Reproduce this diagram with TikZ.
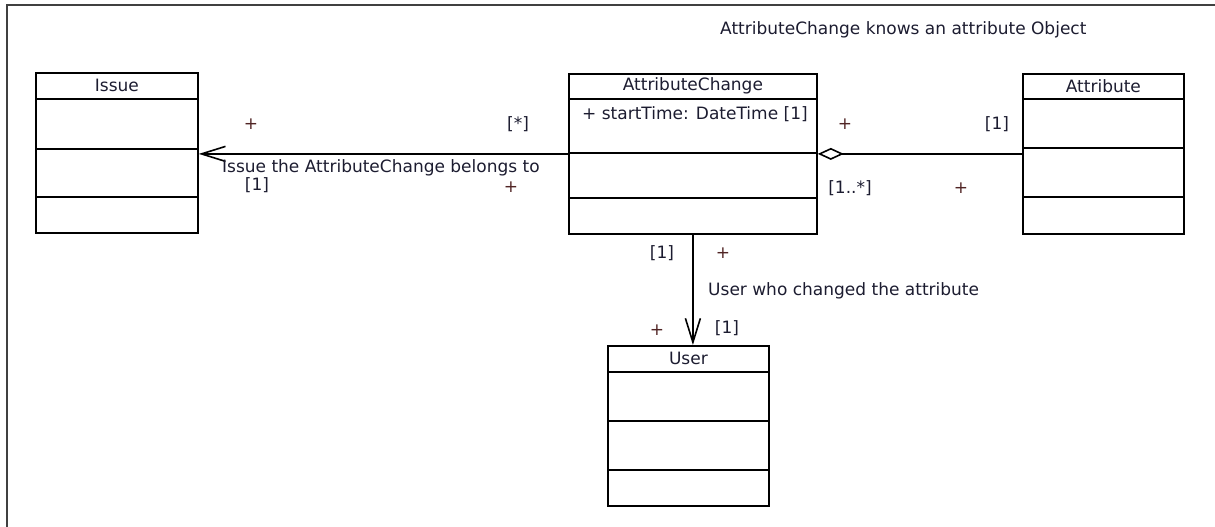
\documentclass[tikz,border=0pt]{standalone}
\usepackage{fontspec}
\setmainfont{DejaVu Sans}
\usetikzlibrary{arrows.meta,positioning}

\definecolor{umltext}{RGB}{28,28,48}
\definecolor{umlplus}{RGB}{80,36,36}

\begin{document}
\begin{tikzpicture}[
        x=1pt, y=-1pt,
        classbox/.style={draw, line width=1.8pt, minimum width=161pt, minimum height=160pt, anchor=north west, inner sep=0pt},
        divider/.style={line width=1.8pt},
        classname/.style={text=umltext, font=\fontsize{17}{20}\selectfont, inner sep=0pt},
        label/.style={text=umltext, font=\fontsize{17}{20}\selectfont, inner sep=0pt},
        plus/.style={text=umlplus, font=\fontsize{17}{20}\selectfont, inner sep=0pt},
        assoc/.style={line width=1.6pt},
        navarrow/.style={assoc, -{Straight Barb[length=24pt, width=15pt, line width=1.6pt]}},
        aggarrow/.style={assoc, {Diamond[open, length=26pt, width=12pt, line width=1.6pt]}-}
    ]
        \useasboundingbox (0,0) rectangle (1215,527);

        % Frame
        \draw[line width=2.2pt, black!75] (7,527) -- (7,5) -- (1215,5);
        \node[label, anchor=west] (note) at (720,30) {AttributeChange knows an attribute Object};

        % Nodes
        \node[classbox, minimum width=162pt] (issue) at (35,72) {};
        \node[classbox, minimum width=248pt] (attrchange) at (568,73) {};
        \node[classbox] (attribute) at (1022,73) {};
        \node[classbox] (user) at (607,345) {};

        \node[classname] (issuename) at ([yshift=-13.5pt]issue.north) {Issue};
        \node[classname] (attrchangename) at ([yshift=-13pt]attrchange.north) {AttributeChange};
        \node[classname] (attributename) at ([yshift=-13pt]attribute.north) {Attribute};
        \node[classname] (username) at ([yshift=-13.5pt]user.north) {User};

        \node[label, anchor=west] (starttime) at ([xshift=14pt, yshift=-41pt]attrchange.north west) {+ startTime: DateTime [1]};

        % Compartments
        \foreach \cls/\da/\db/\dc in {issue/27/77/125, attrchange/26/80/125, attribute/26/75/124, user/27/76/125}
            \foreach \d in {\da,\db,\dc}
                \draw[divider] ([yshift=-\d pt]\cls.north west) -- ([yshift=-\d pt]\cls.north east);

        % Arrows
        \draw[navarrow] (attrchange.west) -- (attrchange.west -| issue.east);
        \draw[aggarrow] (attrchange.east) -- (attrchange.east -| attribute.west);
        \draw[navarrow] (attrchange.south) -- (attrchange.south |- user.north);

        % Association ends
        \node[plus] (issueplus) at (251,124) {+};
        \node[label] (issuestar) at (518,124) {[*]};
        \node[label, anchor=west] (issuerole) at (222,168) {Issue the AttributeChange belongs to};
        \node[label] (issueone) at (257,185) {[1]};
        \node[plus] (issueplusb) at (511,187) {+};

        \node[plus] (attrplus) at (845,124) {+};
        \node[label] (attrone) at (997,124) {[1]};
        \node[label] (attrmany) at (850,188) {[1..*]};
        \node[plus] (attrplusb) at (961,188) {+};

        \node[label] (userone) at (662,253) {[1]};
        \node[plus] (userplus) at (723,253) {+};
        \node[label, anchor=west] (userrole) at (708,291) {User who changed the attribute};
        \node[plus] (userplusb) at (657,330) {+};
        \node[label] (useroneb) at (727,328) {[1]};
\end{tikzpicture}
\end{document}
